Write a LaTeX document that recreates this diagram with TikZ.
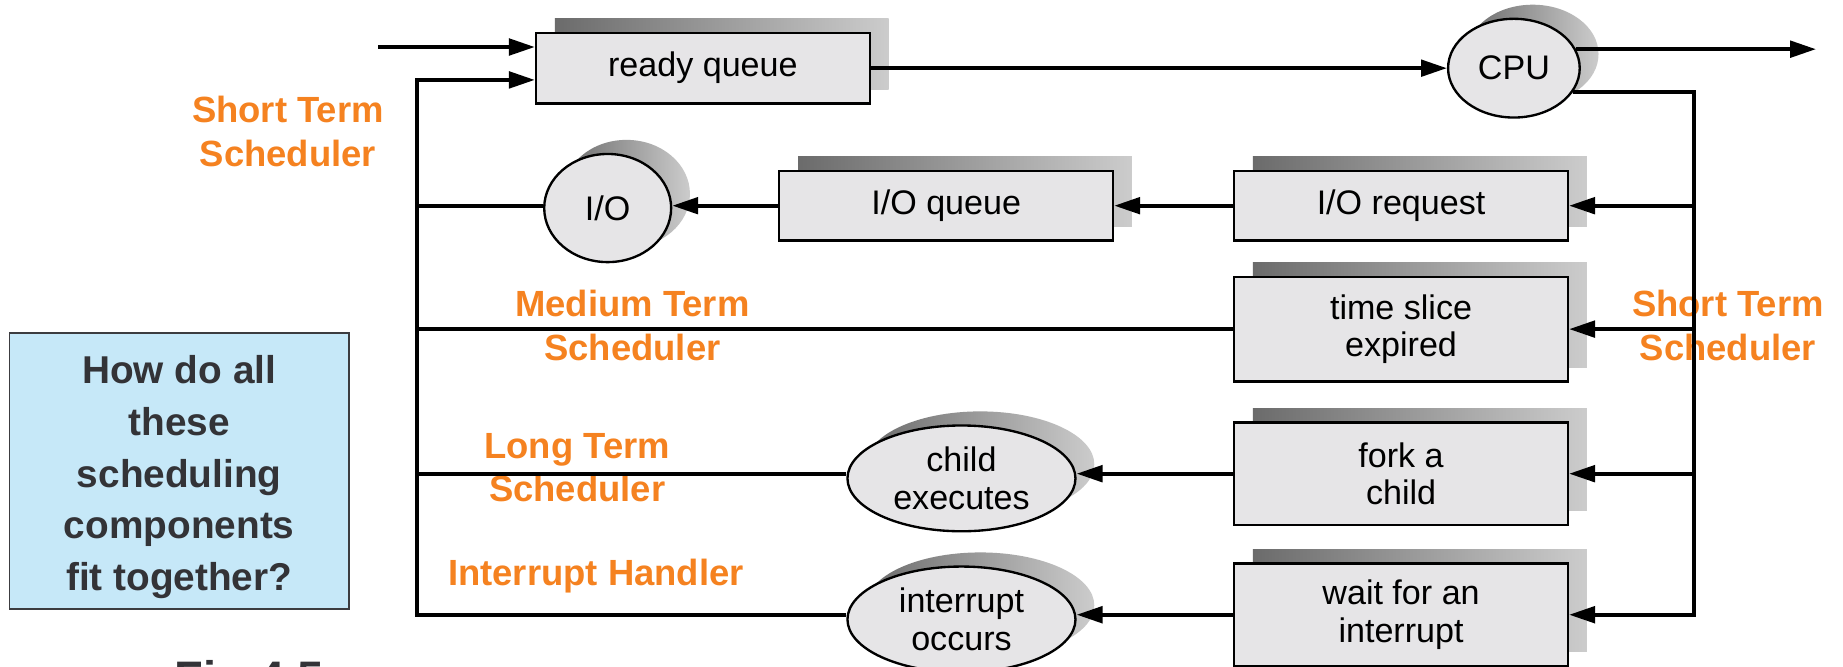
\documentclass[tikz,border=0pt]{standalone}
\usepackage{fontspec}
\setmainfont{Liberation Sans}
\usetikzlibrary{shapes.geometric,arrows.meta,shadows,calc}
\definecolor{boxfill}{RGB}{230,229,231}
\definecolor{orng}{RGB}{245,130,32}
\definecolor{qfill}{RGB}{198,232,248}
\definecolor{qtext}{RGB}{51,51,55}
\definecolor{qborder}{RGB}{60,60,64}
\tikzset{
  shad/.style={general shadow={shadow xshift=16pt, shadow yshift=12pt, left color=black!58, right color=black!20}},
  qbox/.style={draw=black, line width=2pt, fill=boxfill, rectangle, minimum width=284pt, inner sep=0pt, align=center, font=\fontsize{29}{32}\selectfont, shad},
  qell/.style={draw=black, line width=2pt, fill=boxfill, ellipse, inner sep=0pt, align=center, font=\fontsize{29}{32}\selectfont, shad},
  conn/.style={line width=3.2pt},
  arr/.style={conn, -{Triangle[length=22pt,width=14pt]}},
  lbl/.style={text=orng, font=\bfseries\fontsize{31}{37}\selectfont, align=center},
}
\begin{document}
\begin{tikzpicture}[x=1pt,y=-1pt]
\useasboundingbox (0,0) rectangle (1568,567);
\clip (0,0) rectangle (1568,567);
\fill[white] (0,0) rectangle (1568,567);

% orange labels
\node[lbl] (st1) at (245,112) {Short Term\\Scheduler};
\node[lbl] (mt) at (538,277) {Medium Term\\Scheduler};
\node[lbl] (lt) at (491,398) {Long Term\\Scheduler};
\node[lbl] (ih) at (507,490) {Interrupt Handler};
\node[lbl] (st2) at (1470,277) {Short Term\\Scheduler};

% question box
\node[draw=qborder, line width=1.5pt, fill=qfill, minimum width=289pt, minimum height=235pt,
      text=qtext, font=\bfseries\fontsize{33}{44}\selectfont, align=center] (q) at (152.5,400.5) {};
\node[text=qtext, font=\bfseries\fontsize{33}{44}\selectfont, align=center] (qt) at (152.5,406)
      {How do all\\these\\scheduling\\components\\fit together?};
\node[text=qtext, font=\bfseries\fontsize{40}{44}\selectfont, anchor=base] (fig) at (212,591) {Fig 4.5};

% nodes
\node[qbox, minimum height=60pt] (rq) at (598,58) {ready queue};
\node[qell, minimum width=112pt, minimum height=84pt] (cpu) at (1288,58) {CPU};
\node[qell, minimum width=108pt, minimum height=92pt] (io) at (517,177) {I/O};
\node[qbox, minimum height=59pt] (ioq) at (805,175) {I/O queue};
\node[qbox, minimum height=59pt] (ior) at (1192,175) {I/O request};
\node[qbox, minimum height=89pt] (ts) at (1192,280) {time slice\\expired};
\node[qbox, minimum height=87pt] (fk) at (1192,403) {fork a\\child};
\node[qbox, minimum height=87pt] (wi) at (1192,523) {wait for an\\interrupt};
\node[qell, minimum width=194pt, minimum height=90pt] (ce) at (818,407) {child\\executes};
\node[qell, minimum width=194pt, minimum height=90pt] (ic) at (818,527) {interrupt\\occurs};

% coordinates
\coordinate (src) at (322,40);
\coordinate (ltop) at (355,68);
\coordinate (rbot) at (1441,523);
\coordinate (dst) at (1545,42);

% connectors
\draw[arr] (src) -- (rq.west |- src);
\draw[arr] (ic.west |- wi.west) -| (ltop) -- (rq.west |- ltop);
\draw[conn] (io.west |- ioq.west) -- (ioq.west -| ltop);
\draw[conn] (ts.west) -- (ts.west -| ltop);
\draw[conn] (ce.west |- fk.west) -- (fk.west -| ltop);
\draw[arr] (rq.east) -- (cpu.west);
\draw[arr] (cpu.17) -- (cpu.17 -| dst);
\draw[arr] (cpu.-22) -| (rbot) -- (wi.east);
\draw[arr] (ior.east -| rbot) -- (ior.east);
\draw[arr] (ts.east -| rbot) -- (ts.east);
\draw[arr] (fk.east -| rbot) -- (fk.east);
\draw[arr] (ior.west) -- (ioq.east);
\draw[arr] (ioq.west) -- (io.east |- ioq.west);
\draw[arr] (fk.west) -- (ce.east |- fk.west);
\draw[arr] (wi.west) -- (ic.east |- wi.west);
\end{tikzpicture}
\end{document}
